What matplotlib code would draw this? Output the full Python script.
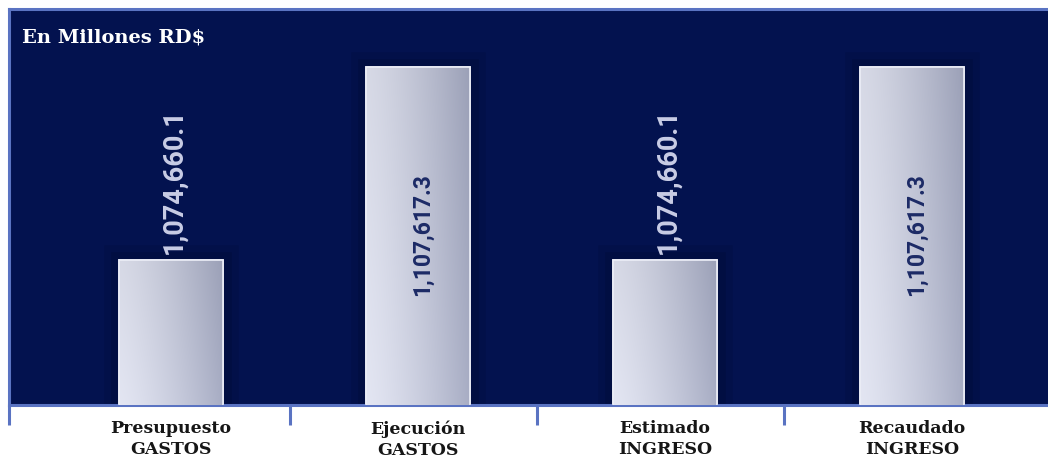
import numpy as np
import matplotlib
matplotlib.use('Agg')
import matplotlib.pyplot as plt
from matplotlib import patheffects
from matplotlib.patches import Rectangle

categorias = ['Presupuesto\nGASTOS', 'Ejecución\nGASTOS', 'Estimado\nINGRESO', 'Recaudado\nINGRESO']
montos = [1074660.1, 1107617.3, 1074660.1, 1107617.3]

FONDO = '#03124f'
BORDE = '#5a73c2'
Y_MIN, Y_MAX = 1049900, 1117520
X_MIN, X_MAX = -0.656, 3.55
ANCHO = 0.42


def degradado(n=60):
    # light on the left, greyish blue to the right, a bit darker on top
    t = np.linspace(0, 1, n)[None, :]
    s = np.linspace(0, 1, n)[:, None]
    izq = np.array([0.89, 0.90, 0.95])
    der = np.array([0.66, 0.68, 0.77])
    mezcla = (t ** 1.3)[..., None]
    img = izq * (1 - mezcla) + der * mezcla
    img = img - 0.05 * (s[..., None]) * np.ones_like(img)
    return np.clip(img, 0, 1)


def plot_barras():
    fig = plt.figure(figsize=(10.48, 4.62), dpi=100)
    fig.patch.set_facecolor('white')
    ax = fig.add_axes([9 / 1048, 57 / 462, 1039 / 1048, 396 / 462])
    ax.set_facecolor(FONDO)

    x = np.arange(len(montos))
    barras = ax.bar(x, montos, width=ANCHO, color='#d8dbea', edgecolor='#eceef7',
                    linewidth=1.2, zorder=2)
    img = degradado()
    for b, xi, v in zip(barras, x, montos):
        b.set_path_effects([
            patheffects.Stroke(linewidth=22, foreground='#000a2e', alpha=0.18),
            patheffects.Stroke(linewidth=12, foreground='#000a2e', alpha=0.25),
            patheffects.Normal(),
        ])
        im = ax.imshow(img, extent=(xi - ANCHO / 2, xi + ANCHO / 2, Y_MIN, v),
                       aspect='auto', origin='lower', interpolation='bicubic', zorder=3)
        im.set_clip_path(b)
        ax.add_patch(Rectangle((xi - ANCHO / 2, Y_MIN - 1000), ANCHO, v - Y_MIN + 1000,
                               fill=False, edgecolor='#eceef7', linewidth=1.2, zorder=4))

    # value labels: outside for the short bars, inside for the tall ones
    for xi, v in zip(x, montos):
        texto = f'{v:,.1f}'
        if v > 1.09e6:
            ax.annotate(texto, xy=(xi, v), xytext=(4, -106), textcoords='offset pixels',
                        rotation=90, ha='center', va='top', fontsize=16.5,
                        family='Roboto', fontweight='bold', color='#1c2a66', zorder=5)
        else:
            ax.annotate(texto, xy=(xi, v), xytext=(3, 6), textcoords='offset pixels',
                        rotation=90, ha='center', va='bottom', fontsize=19.5,
                        family='Roboto', fontweight='bold', color='#c9cde6', zorder=5)

    ax.text(13 / 1039, 0.927, 'En Millones RD$', transform=ax.transAxes,
            ha='left', va='center', fontsize=14, fontweight='bold',
            family='DejaVu Serif', color='white')

    ax.set_xlim(X_MIN, X_MAX)
    ax.set_ylim(Y_MIN, Y_MAX)

    for lado in ['top', 'left', 'bottom']:
        ax.spines[lado].set_color(BORDE)
        ax.spines[lado].set_linewidth(2.2)
    ax.spines['right'].set_visible(False)

    ax.set_yticks([])
    ax.set_xticks([X_MIN + 0.001, 0.48, 1.48, 2.48])
    ax.set_xticklabels([])
    ax.tick_params(axis='x', which='major', direction='out', length=14.5,
                   width=2.2, color=BORDE)
    ax.set_xticks(x, categorias, minor=True)
    ax.tick_params(axis='x', which='minor', length=0, pad=11)
    for lbl in ax.get_xticklabels(minor=True):
        lbl.set_family('DejaVu Serif')
        lbl.set_fontweight('bold')
        lbl.set_fontsize(12.5)
        lbl.set_color('#161616')
        lbl.set_linespacing(1.3)

    fig.savefig('out.png', dpi=100, facecolor=fig.get_facecolor())


if __name__ == '__main__':
    plot_barras()
